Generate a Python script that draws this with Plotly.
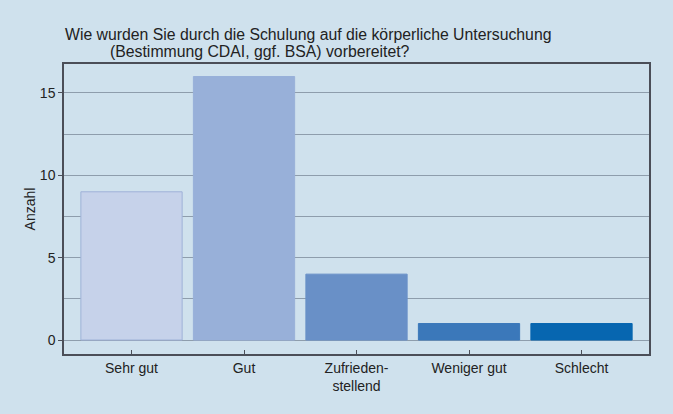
import plotly.graph_objects as go

# Antworten und Anzahl
kategorien = ["Sehr gut", "Gut", "Zufrieden-<br>stellend", "Weniger gut", "Schlecht"]
anzahl = [9, 16, 4, 1, 1]
farben = ["#c6d2ea", "#98b0d9", "#6990c7", "#3b78ba", "#0766b0"]
randfarben = ["#9fb2d8", "#98b0d9", "#6990c7", "#3b78ba", "#0766b0"]
titel = ["Wie wurden Sie durch die Schulung auf die körperliche Untersuchung",
         "(Bestimmung CDAI, ggf. BSA) vorbereitet?"]
titel_links = [63, 108]  # linker Rand jeder Titelzeile in px

bg = "#cfe1ed"
achse = "#4b4e58"
gitter = "#8e9dac"

fig = go.Figure(go.Bar(
    x=list(range(len(kategorien))),
    y=anzahl,
    width=0.9,
    marker=dict(color=farben, line=dict(color=randfarben, width=1)),
))

fig.update_layout(
    width=673, height=414,
    paper_bgcolor=bg, plot_bgcolor=bg,
    margin=dict(l=64, r=24, t=64, b=60, autoexpand=False),
    font=dict(family="Liberation Sans, Arial, sans-serif", size=14, color="#222222"),
    showlegend=False,
)

# Titel als zwei Zeilen, zweite eingerückt
for i, zeile in enumerate(titel):
    fig.add_annotation(
        text=zeile, xref="paper", yref="paper",
        x=(titel_links[i] - 64) / (673 - 64 - 24), y=1 + (64 - 35 - 17 * i) / (414 - 64 - 60),
        xanchor="left", yanchor="middle", showarrow=False,
        font=dict(size=15.8, color="#222222"),
    )

fig.update_xaxes(
    tickmode="array", tickvals=list(range(len(kategorien))), ticktext=kategorien,
    range=[-0.6, 4.6], automargin=False,
    showline=True, mirror=True, linecolor=achse, linewidth=1.5,
    ticks="inside", ticklen=4, tickcolor=achse, showgrid=False,
)
fig.update_yaxes(
    range=[-0.85, 16.76], dtick=5, tick0=0, automargin=False,
    showline=True, mirror=True, linecolor=achse, linewidth=1.5,
    ticks="outside", ticklen=4, tickcolor=achse,
    showgrid=True, gridcolor=gitter, gridwidth=1, zeroline=False,
    minor=dict(dtick=2.5, tick0=0, showgrid=True, gridcolor=gitter, gridwidth=1, ticklen=0),
    title=dict(text="Anzahl", standoff=1, font=dict(size=14)),
)

# Seitenrand des Browsers entfernen
fig.write_html("out.html", config={"displayModeBar": False},
               post_script="document.body.style.margin='0';"
               f"document.body.style.background='{bg}';")
